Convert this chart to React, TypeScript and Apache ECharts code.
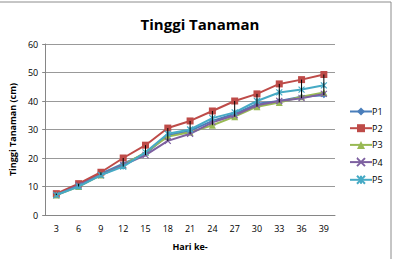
import React, { useEffect, useRef } from "react";
import * as echarts from "echarts";

const days = ["3", "6", "9", "12", "15", "18", "21", "24", "27", "30", "33", "36", "39"];
const p1 = [7, 10.5, 14.5, 18, 21.5, 28, 29.5, 33, 35.5, 39, 40, 41.5, 42];
const p2 = [7.5, 11, 15, 20, 24.5, 30.5, 33, 36.5, 40, 42.5, 46, 47.5, 49.3];
const p3 = [7, 10, 14, 17.5, 22, 27.5, 29, 31.5, 34.5, 38, 39.5, 41.5, 43];
const p4 = [7, 10.5, 14, 17.5, 21, 26, 28.5, 32.5, 35, 38.5, 40, 41, 42.5];
const p5 = [7, 10, 14, 17, 22, 28.5, 30, 34, 36, 40, 43, 44, 45.5];
const seriesNames = ["P1", "P2", "P3", "P4", "P5"];
const yTicks = { min: 0, max: 60, interval: 10 };

const colors = ["#4A7EBB", "#BE4B48", "#98B954", "#7D60A0", "#46AAC5"];
const symbols = [
  "diamond",
  "rect",
  "triangle",
  "path://M0,0 L2,2 M2,0 L0,2 M0,0 L0.1,0",
  "path://M1,0 L1,2 M0,0 L2,2 M2,0 L0,2",
];

export default function App() {
  const ref = useRef<HTMLDivElement>(null);
  useEffect(() => {
    if (!ref.current) return;
    const chart = echarts.init(ref.current, null, { renderer: "svg" });
    const all = [p1, p2, p3, p4, p5];
    const hl = days.map((_, i) => {
      const vals = all.map((s) => s[i]);
      return [i, Math.min(...vals), Math.max(...vals)];
    });
    const lineSeries: any[] = all.map((d, k) => ({
      name: seriesNames[k],
      type: "line",
      data: d,
      symbol: symbols[k],
      symbolSize: k === 1 ? 7 : k === 2 ? 7 : 6,
      itemStyle:
        k >= 3
          ? { color: "transparent", borderColor: colors[k], borderWidth: 1.2 }
          : { color: colors[k] },
      lineStyle: { color: colors[k], width: 2 },
      z: 3 + k,
    }));
    chart.setOption({
      animation: false,
      color: colors,
      title: {
        text: "Tinggi Tanaman",
        left: 195,
        textAlign: "center",
        top: 11,
        textStyle: { fontFamily: "Open Sans", fontWeight: "bold", fontSize: 15, color: "#000" },
      },
      legend: {
        orient: "vertical",
        left: 349,
        top: 107,
        padding: 0,
        itemGap: 7.7,
        itemWidth: 22,
        itemHeight: 10,
        data: seriesNames,
        textStyle: { fontFamily: "Open Sans", fontSize: 9, color: "#000", padding: [0, 0, 0, -5] },
      },
      grid: { left: 45, right: 59, top: 44, bottom: 44 },
      xAxis: {
        type: "category",
        data: days,
        boundaryGap: true,
        name: "Hari ke-",
        nameLocation: "middle",
        nameGap: 27,
        nameTextStyle: { fontFamily: "Open Sans", fontWeight: "bold", fontSize: 9, color: "#000" },
        axisLine: { lineStyle: { color: "#868686" } },
        axisTick: { show: false },
        axisLabel: { fontFamily: "Open Sans", fontSize: 9, color: "#000", margin: 9 },
      },
      yAxis: {
        type: "value",
        min: yTicks.min,
        max: yTicks.max,
        interval: yTicks.interval,
        name: "Tinggi Tanaman (cm)",
        nameLocation: "middle",
        nameGap: 25,
        nameTextStyle: { fontFamily: "Open Sans", fontWeight: "bold", fontSize: 9, color: "#000" },
        axisLine: { show: true, lineStyle: { color: "#868686" } },
        axisTick: { show: true, length: 3, inside: false, lineStyle: { color: "#868686" } },
        splitLine: { lineStyle: { color: "#999999", width: 1 } },
        axisLabel: { fontFamily: "Open Sans", fontSize: 9, color: "#000", margin: 7 },
      },
      graphic: [
        {
          type: "rect",
          shape: { x: -2, y: 2, width: 393, height: 270 },
          style: { fill: "none", stroke: "#8c8c8c", lineWidth: 1 },
          silent: true,
        },
      ],
      series: [
        ...lineSeries,
        {
          type: "custom",
          name: "hl",
          data: hl,
          z: 10,
          renderItem: (params: any, api: any) => {
            const a = api.coord([api.value(0), api.value(1)]);
            const b = api.coord([api.value(0), api.value(2)]);
            return {
              type: "line",
              shape: { x1: a[0], y1: a[1], x2: b[0], y2: b[1] },
              style: { stroke: "#000", lineWidth: 1 },
            };
          },
        },
      ],
    });
    return () => chart.dispose();
  }, []);
  return (
    <div
      ref={ref}
      style={{ position: "fixed", left: 0, top: 0, width: 394, height: 259, background: "#fff" }}
    />
  );
}
